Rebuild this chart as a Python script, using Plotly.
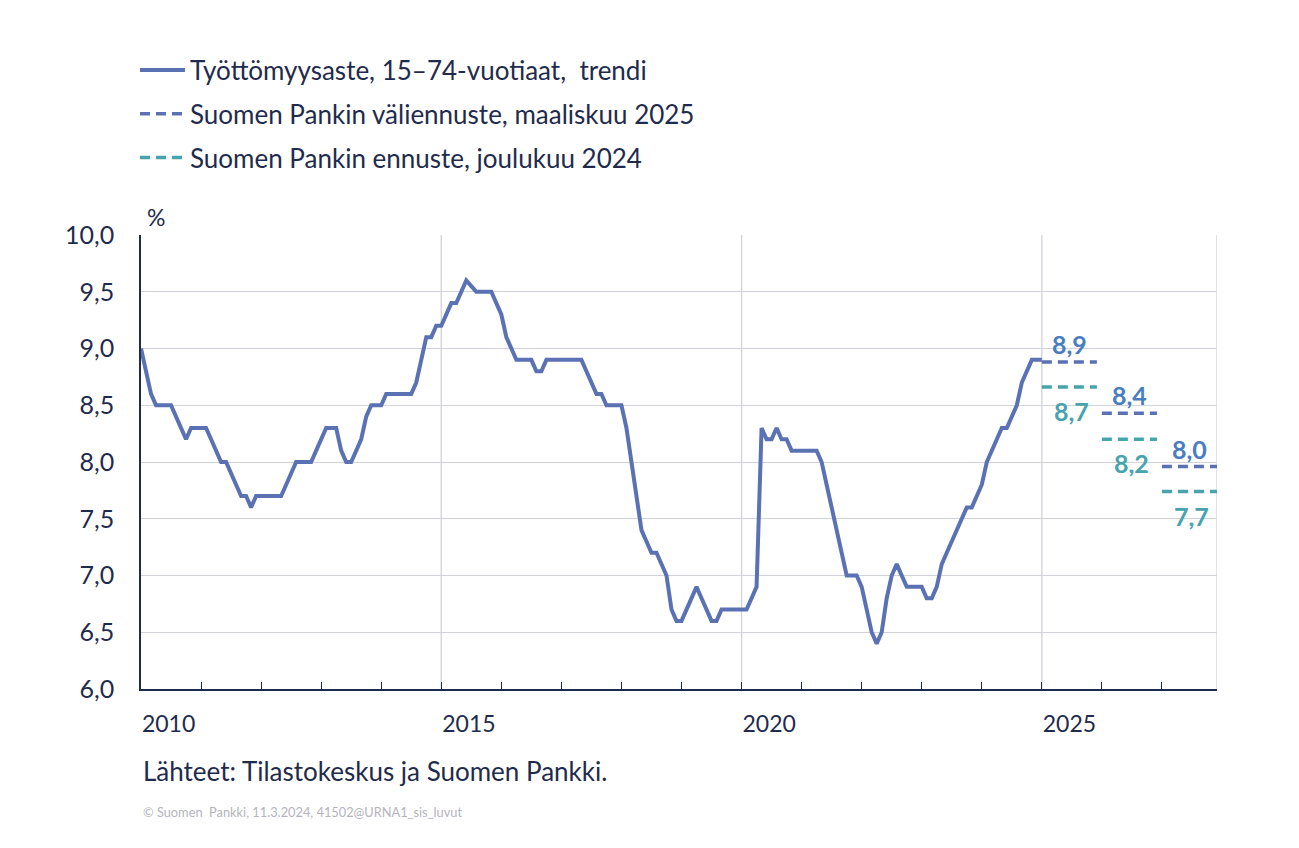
import plotly.graph_objects as go

# ---- data -------------------------------------------------------------
start_year = 2010
# monthly trend, Jan 2010 ... Jan 2025
unemployment = [
    9.0, 8.8, 8.6, 8.5, 8.5, 8.5, 8.5, 8.4, 8.3, 8.2, 8.3, 8.3,   # 2010
    8.3, 8.3, 8.2, 8.1, 8.0, 8.0, 7.9, 7.8, 7.7, 7.7, 7.6, 7.7,   # 2011
    7.7, 7.7, 7.7, 7.7, 7.7, 7.8, 7.9, 8.0, 8.0, 8.0, 8.0, 8.1,   # 2012
    8.2, 8.3, 8.3, 8.3, 8.1, 8.0, 8.0, 8.1, 8.2, 8.4, 8.5, 8.5,   # 2013
    8.5, 8.6, 8.6, 8.6, 8.6, 8.6, 8.6, 8.7, 8.9, 9.1, 9.1, 9.2,   # 2014
    9.2, 9.3, 9.4, 9.4, 9.5, 9.6, 9.55, 9.5, 9.5, 9.5, 9.5, 9.4,  # 2015
    9.3, 9.1, 9.0, 8.9, 8.9, 8.9, 8.9, 8.8, 8.8, 8.9, 8.9, 8.9,   # 2016
    8.9, 8.9, 8.9, 8.9, 8.9, 8.8, 8.7, 8.6, 8.6, 8.5, 8.5, 8.5,   # 2017
    8.5, 8.3, 8.0, 7.7, 7.4, 7.3, 7.2, 7.2, 7.1, 7.0, 6.7, 6.6,   # 2018
    6.6, 6.7, 6.8, 6.9, 6.8, 6.7, 6.6, 6.6, 6.7, 6.7, 6.7, 6.7,   # 2019
    6.7, 6.7, 6.8, 6.9, 8.3, 8.2, 8.2, 8.3, 8.2, 8.2, 8.1, 8.1,   # 2020
    8.1, 8.1, 8.1, 8.1, 8.0, 7.8, 7.6, 7.4, 7.2, 7.0, 7.0, 7.0,   # 2021
    6.9, 6.7, 6.5, 6.4, 6.5, 6.8, 7.0, 7.1, 7.0, 6.9, 6.9, 6.9,   # 2022
    6.9, 6.8, 6.8, 6.9, 7.1, 7.2, 7.3, 7.4, 7.5, 7.6, 7.6, 7.7,   # 2023
    7.8, 8.0, 8.1, 8.2, 8.3, 8.3, 8.4, 8.5, 8.7, 8.8, 8.9, 8.9,   # 2024
    8.9,                                                          # 2025
]

forecast_years = [2025, 2026, 2027]
forecast_mar2025 = [8.88, 8.43, 7.96]
forecast_dec2024 = [8.66, 8.20, 7.74]
labels_mar2025 = ["8,9", "8,4", "8,0"]
labels_dec2024 = ["8,7", "8,2", "7,7"]

year_labels = ["2010", "2015", "2020", "2025"]
y_ticks = [6.0, 6.5, 7.0, 7.5, 8.0, 8.5, 9.0, 9.5, 10.0]
y_ticktext = ["6,0", "6,5", "7,0", "7,5", "8,0", "8,5", "9,0", "9,5", "10,0"]

names = [
    "Työttömyysaste, 15–74-vuotiaat,  trendi",
    "Suomen Pankin väliennuste, maaliskuu 2025",
    "Suomen Pankin ennuste, joulukuu 2024",
]

# ---- styling ----------------------------------------------------------
FONT = "Lato"
TXT = "#1F2B4D"
BLUE = "#5A72B4"
TEAL = "#46A4AD"
BLUE_LBL = "#4A7DC0"
GRID = "#D2D2DA"

x_months = [start_year + i / 12 for i in range(len(unemployment))]

fig = go.Figure()
fig.add_trace(go.Scatter(
    x=x_months, y=unemployment, mode="lines", name=names[0],
    line=dict(color=BLUE, width=4), legendgroup="a",
))


def seg_xy(years, vals):
    xs, ys = [], []
    for yr, v in zip(years, vals):
        xs += [yr, yr + 11 / 12, None]
        ys += [v, v, None]
    return xs, ys


xs, ys = seg_xy(forecast_years, forecast_mar2025)
fig.add_trace(go.Scatter(
    x=xs, y=ys, mode="lines", name=names[1], legendgroup="b",
    line=dict(color=BLUE, width=3.5, dash="10px,6px"),
))
xs, ys = seg_xy(forecast_years, forecast_dec2024)
fig.add_trace(go.Scatter(
    x=xs, y=ys, mode="lines", name=names[2], legendgroup="c",
    line=dict(color=TEAL, width=3.5, dash="10px,6px"),
))

annotations = []
for yr, v, t in zip(forecast_years, forecast_mar2025, labels_mar2025):
    annotations.append(dict(x=yr + 0.46, y=v, xref="x", yref="y", text=f"<b>{t}</b>",
                            showarrow=False, yshift=18,
                            font=dict(family=FONT, size=25, color=BLUE_LBL)))
for yr, v, t in zip(forecast_years, forecast_dec2024, labels_dec2024):
    annotations.append(dict(x=yr + 0.5, y=v, xref="x", yref="y", text=f"<b>{t}</b>",
                            showarrow=False, yshift=-24,
                            font=dict(family=FONT, size=25, color=TEAL)))

annotations += [
    dict(x=0.004, y=1.0, xref="paper", yref="paper", text="%", showarrow=False,
         xanchor="left", yanchor="bottom", yshift=2,
         font=dict(family=FONT, size=23, color=TXT)),
    dict(x=0.0, y=-82 / 454, xref="paper", yref="paper",
         text="Lähteet: Tilastokeskus ja Suomen Pankki.", showarrow=False,
         xanchor="left", yanchor="middle",
         font=dict(family=FONT, size=26, color=TXT)),
    dict(x=0.0, y=-123 / 454, xref="paper", yref="paper",
         text="© Suomen  Pankki, 11.3.2024, 41502@URNA1_sis_luvut", showarrow=False,
         xanchor="left", yanchor="middle",
         font=dict(family=FONT, size=12.8, color="#B4B4BC")),
]

shapes = []
for gx in [2015, 2020, 2025, 2027 + 11 / 12]:
    shapes.append(dict(type="line", xref="x", yref="paper", x0=gx, x1=gx, y0=0, y1=1,
                       line=dict(color=GRID, width=1.3), layer="below"))

# page body has an 8px default margin; compensate so the plot lands where intended
fig.update_layout(
    width=1291, height=840,
    margin=dict(l=133, r=82, t=227, b=159),
    paper_bgcolor="white", plot_bgcolor="white",
    font=dict(family=FONT, color=TXT),
    showlegend=True,
    legend=dict(x=-0.0056, y=1.4084 + 3 / 454, xanchor="left", yanchor="top",
                font=dict(family=FONT, size=26, color=TXT),
                tracegroupgap=7, itemwidth=45, bgcolor="rgba(0,0,0,0)"),
    annotations=annotations,
    shapes=shapes,
    xaxis=dict(
        range=[2010, 2027 + 11 / 12],
        tickmode="array",
        tickvals=[int(y) + 0.46 for y in year_labels],
        ticktext=year_labels,
        ticks="", showgrid=False, zeroline=False,
        showline=True, linecolor=TXT, linewidth=1.5,
        tickfont=dict(family=FONT, size=23, color=TXT),
        ticklabelstandoff=14,
        minor=dict(tickmode="array", tickvals=list(range(2011, 2028)),
                   ticks="inside", ticklen=7, tickcolor=TXT, tickwidth=1, showgrid=False),
    ),
    yaxis=dict(
        range=[6, 10],
        tickmode="array", tickvals=y_ticks, ticktext=y_ticktext,
        ticks="", showgrid=True, gridcolor=GRID, gridwidth=1.3, zeroline=False,
        showline=True, linecolor=TXT, linewidth=1.5,
        tickfont=dict(family=FONT, size=25, color=TXT),
        ticklabelstandoff=20,
    ),
)

fig.write_html("out.html")
